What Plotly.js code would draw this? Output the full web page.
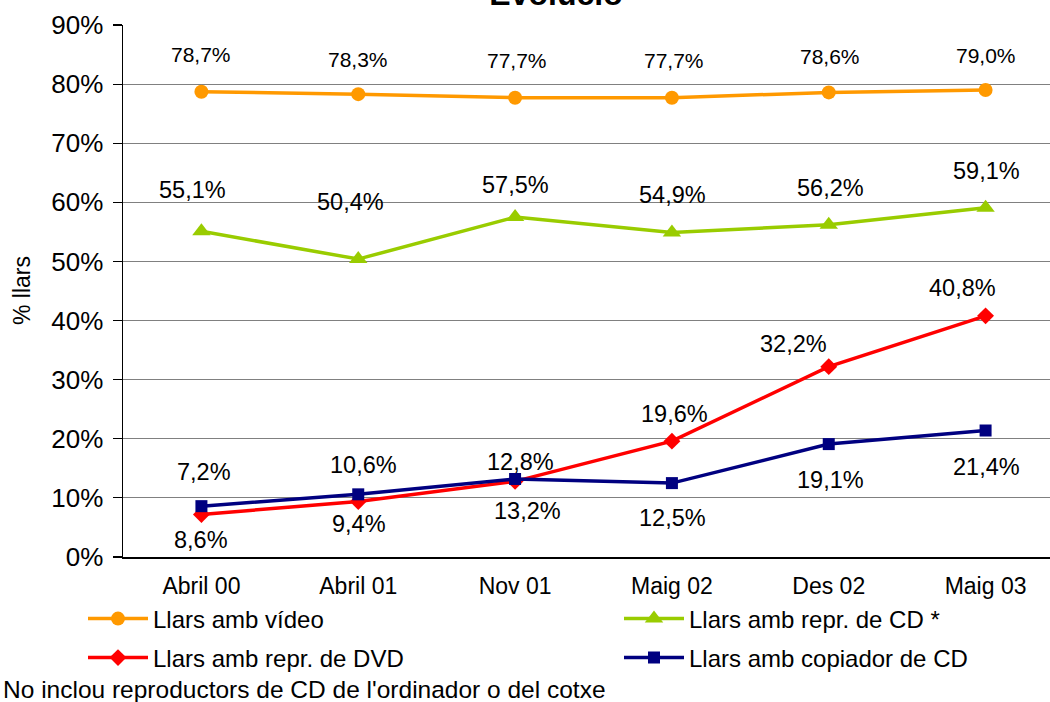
<!DOCTYPE html>
<html>
<head>
<meta charset="utf-8">
<script src="https://cdn.plot.ly/plotly-3.0.1.min.js"></script>
<style>
html, body { margin: 0; padding: 0; overflow: hidden; background: #fff; }
#chart { width: 1070px; height: 702px; }
</style>
</head>
<body>
<div id="chart"></div>
<script>
// ---- data ----
const categories = ['Abril 00', 'Abril 01', 'Nov 01', 'Maig 02', 'Des 02', 'Maig 03'];
const seriesNames = ['Llars amb vídeo', 'Llars amb repr. de CD *', 'Llars amb repr. de DVD', 'Llars amb copiador de CD'];
const video    = [78.7, 78.3, 77.7, 77.7, 78.6, 79.0];
const cdPlayer = [55.1, 50.4, 57.5, 54.9, 56.2, 59.1];
const dvd      = [7.2, 9.4, 12.8, 19.6, 32.2, 40.8];
const cdWriter = [8.6, 10.6, 13.2, 12.5, 19.1, 21.4];
const yTicks   = [0, 10, 20, 30, 40, 50, 60, 70, 80, 90];
const titleText = 'Evolució';
const yTitle = '% llars';
const footnote = "No inclou reproductors de CD de l'ordinador o del cotxe";

// ---- label placement (pixels, style only) ----
const videoDy = [37, 35, 37, 37, 36, 35],  videoDx = [0, 0, 2, 2, 1, 0];
const cdDy    = [41, 57, 32, 37, 37, 37],  cdDx    = [-9, -8, 0, 1, 2, 1];
const dvdDy   = [42, -23, 19, 27, 23, 28], dvdDx   = [3, 1, 5, 3, -35, -23];
const cwDy    = [-34, 29, -32, -35, -36, -36], cwDx = [0, 5, 12, 1, 2, 1];

const FONT = 'Liberation Sans, Arial, sans-serif';
const fmt = v => v.toFixed(1).replace('.', ',') + '%';

function mkTrace(name, y, color, symbol, size, legend, lw) {
  return {
    type: 'scatter', mode: 'lines+markers', name: name,
    x: categories, y: y, legend: legend, legendwidth: lw,
    line: { color: color, width: 3.5 },
    marker: { color: color, symbol: symbol, size: size, line: { width: 0 } },
    hoverinfo: 'skip'
  };
}

const traces = [
  mkTrace(seriesNames[0], video, '#FF9900', 'circle', 14, 'legend', 461),
  mkTrace(seriesNames[1], cdPlayer, '#99CC00', 'triangle-up', 16, 'legend', 300),
  mkTrace(seriesNames[2], dvd, '#FF0000', 'diamond', 13, 'legend2', 461),
  mkTrace(seriesNames[3], cdWriter, '#000080', 'square', 12, 'legend2', 300)
];

const annotations = [];
function addLabels(vals, dx, dy, size) {
  vals.forEach((v, i) => {
    annotations.push({
      x: categories[i], y: v, xref: 'x', yref: 'y',
      text: fmt(v), showarrow: false,
      xanchor: 'center', yanchor: 'middle',
      xshift: dx[i], yshift: dy[i],
      font: { family: FONT, size: size, color: '#000' }
    });
  });
}
addLabels(video, videoDx, videoDy, 21);
addLabels(cdPlayer, cdDx, cdDy, 23.5);
addLabels(dvd, dvdDx, dvdDy, 23.5);
addLabels(cdWriter, cwDx, cwDy, 23.5);

// y axis title
annotations.push({
  xref: 'paper', yref: 'paper', x: (22 - 123) / 941, y: 0.5,
  text: yTitle, textangle: -90, showarrow: false,
  xanchor: 'center', yanchor: 'middle',
  font: { family: FONT, size: 23, color: '#000' }
});
// footnote
annotations.push({
  xref: 'paper', yref: 'paper', x: (1 - 123) / 941, y: -(689 - 557) / 532,
  text: footnote, showarrow: false,
  xanchor: 'left', yanchor: 'middle',
  font: { family: FONT, size: 24.5, color: '#000' }
});

const legendBase = {
  orientation: 'h', xref: 'container', yref: 'container',
  x: 83 / 1070, xanchor: 'left', yanchor: 'middle',
  entrywidthmode: 'pixels',
  itemwidth: 60,
  bgcolor: 'rgba(0,0,0,0)',
  font: { family: FONT, size: 24, color: '#000' }
};

const layout = {
  width: 1070, height: 702,
  margin: { l: 123, r: 6, t: 25, b: 145 },
  paper_bgcolor: '#fff', plot_bgcolor: '#fff',
  font: { family: FONT, color: '#000' },
  title: {
    text: '<b>' + titleText + '</b>',
    font: { family: FONT, size: 32, color: '#000' },
    xref: 'container', yref: 'container',
    x: 556 / 1070, xanchor: 'center',
    y: 1 - 5 / 702, yanchor: 'bottom'
  },
  xaxis: {
    type: 'category', range: [-0.5, 5.5],
    showline: true, linecolor: '#000', linewidth: 1.5,
    showgrid: false, zeroline: false, ticks: '',
    ticklabelstandoff: 8,
    tickfont: { family: FONT, size: 23, color: '#000' },
    fixedrange: true
  },
  yaxis: {
    range: [0, 90], tickvals: yTicks, ticktext: yTicks.map(t => t + '%'),
    showline: true, linecolor: '#000', linewidth: 1.5,
    showgrid: true, gridcolor: '#808080', gridwidth: 1.2,
    zeroline: false,
    ticks: 'outside', ticklen: 9, tickcolor: '#000', tickwidth: 1.2,
    ticklabelstandoff: 4,
    tickfont: { family: FONT, size: 26, color: '#000' },
    fixedrange: true
  },
  legend: Object.assign({}, legendBase, { y: 1 - 619 / 702 }),
  legend2: Object.assign({}, legendBase, { y: 1 - 658 / 702 }),
  annotations: annotations,
  showlegend: true
};

Plotly.newPlot('chart', traces, layout, { displayModeBar: false, staticPlot: true });
</script>
</body>
</html>
